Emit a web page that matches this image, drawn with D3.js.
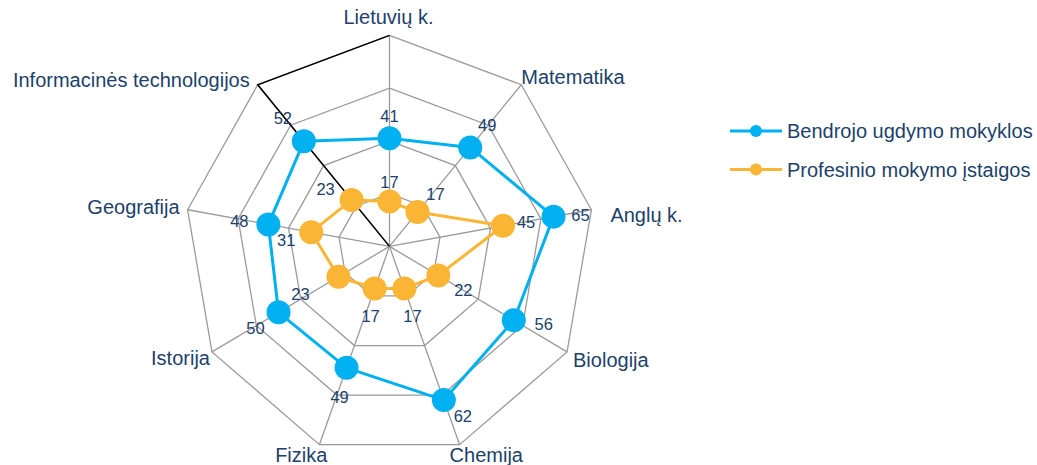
<!DOCTYPE html>
<html>
<head>
<meta charset="utf-8">
<script src="https://cdn.jsdelivr.net/npm/d3@7"></script>
<style>
  html, body { margin: 0; padding: 0; background: #fff; }
  svg { display: block; font-family: "Liberation Sans", Arial, sans-serif; }
</style>
</head>
<body>
<svg id="chart" width="1037" height="465"></svg>
<script>
// ---- data ----
const categories = ["Lietuvių k.", "Matematika", "Anglų k.", "Biologija", "Chemija",
                    "Fizika", "Istorija", "Geografija", "Informacinės technologijos"];
const seriesNames = ["Bendrojo ugdymo mokyklos", "Profesinio mokymo įstaigos"];
const bendrojo = [41, 49, 65, 56, 62, 49, 50, 48, 52];
const profesinio = [17, 17, 45, 22, 17, 17, 23, 31, 23];
const gridTicks = [20, 40, 60, 80];

// ---- layout ----
const W = 1037, H = 465;
const cx = 389.5, cy = 246.4, rx = 205, ry = 211;
const colors = ["#00b0f0", "#fbb534"];
const textColor = "#203f6b";
const gridColor = "#9a9a9a";
// category label nudges relative to outer vertex: [dx, dy(baseline), anchor]
const catNudge = [[-1, -11, "middle"], [0, -1, "start"], [19, 12, "start"], [6, 15, "start"],
                  [-10, 17, "start"], [8, 17, "end"], [-2, 13, "end"], [-8, 4, "end"], [-8, 2, "end"]];
// data label offsets from their marker (per series, per category): [dx, dy]
const labelOffsets = [
  [[0, -22], [17, -22], [27, -2], [30, 4], [19, 16], [-7, 29], [-23, 16], [-29, -3], [-21, -23]],
  [[0, -20], [18, -18], [23, -4], [25, 15], [8, 27], [-4, 27], [-38, 17], [-25, 8], [-26, -11]]
];

const svg = d3.select("#chart");
const r = d3.scaleLinear().domain([0, 80]).range([0, 1]);
const angle = d3.scaleLinear().domain([0, categories.length]).range([0, 2 * Math.PI]);
const px = (i, v) => cx + rx * r(v) * Math.sin(angle(i));
const py = (i, v) => cy - ry * r(v) * Math.cos(angle(i));

const polyLine = d3.line().x(d => px(d.i, d.v)).y(d => py(d.i, d.v)).curve(d3.curveLinearClosed);

// grid rings
const grid = svg.append("g");
gridTicks.forEach(t => {
  grid.append("path")
    .attr("d", polyLine(categories.map((c, i) => ({i, v: t}))))
    .attr("fill", "none").attr("stroke", gridColor).attr("stroke-width", 1.3);
});
// spokes
categories.forEach((c, i) => {
  grid.append("line")
    .attr("x1", cx).attr("y1", cy)
    .attr("x2", px(i, 80)).attr("y2", py(i, 80))
    .attr("stroke", gridColor).attr("stroke-width", 1.3);
});
// black axis highlight (center -> last category, last -> first on outer ring)
const last = categories.length - 1;
grid.append("path")
  .attr("d", `M${cx},${cy}L${px(last, 80)},${py(last, 80)}L${px(0, 80)},${py(0, 80)}`)
  .attr("fill", "none").attr("stroke", "#000").attr("stroke-width", 1.5);

// category labels
categories.forEach((c, i) => {
  const n = catNudge[i];
  svg.append("text")
    .attr("x", px(i, 80) + n[0]).attr("y", py(i, 80) + n[1])
    .attr("text-anchor", n[2])
    .attr("font-size", 20).attr("fill", textColor)
    .text(c);
});

// series
const allSeries = [bendrojo, profesinio];
allSeries.forEach((vals, s) => {
  const pts = vals.map((v, i) => ({i, v}));
  const g = svg.append("g");
  g.append("path").attr("d", polyLine(pts))
    .attr("fill", "none").attr("stroke", colors[s]).attr("stroke-width", 3)
    .attr("stroke-linejoin", "round");
  g.selectAll("circle").data(pts).join("circle")
    .attr("cx", d => px(d.i, d.v)).attr("cy", d => py(d.i, d.v))
    .attr("r", 12).attr("fill", colors[s]);
});
// data labels
allSeries.forEach((vals, s) => {
  svg.append("g").selectAll("text").data(vals.map((v, i) => ({i, v}))).join("text")
    .attr("x", d => px(d.i, d.v) + labelOffsets[s][d.i][0])
    .attr("y", d => py(d.i, d.v) + labelOffsets[s][d.i][1])
    .attr("text-anchor", "middle").attr("dominant-baseline", "central")
    .attr("font-size", 16.5).attr("fill", textColor)
    .text(d => d.v);
});

// legend
const leg = svg.append("g");
seriesNames.forEach((name, s) => {
  const y = 131 + s * 38.5;
  leg.append("line").attr("x1", 730).attr("x2", 782).attr("y1", y).attr("y2", y)
    .attr("stroke", colors[s]).attr("stroke-width", 3);
  leg.append("circle").attr("cx", 756).attr("cy", y).attr("r", 6).attr("fill", colors[s]);
  leg.append("text").attr("x", 787).attr("y", y + 7)
    .attr("font-size", 20).attr("fill", textColor).text(name);
});
</script>
</body>
</html>
